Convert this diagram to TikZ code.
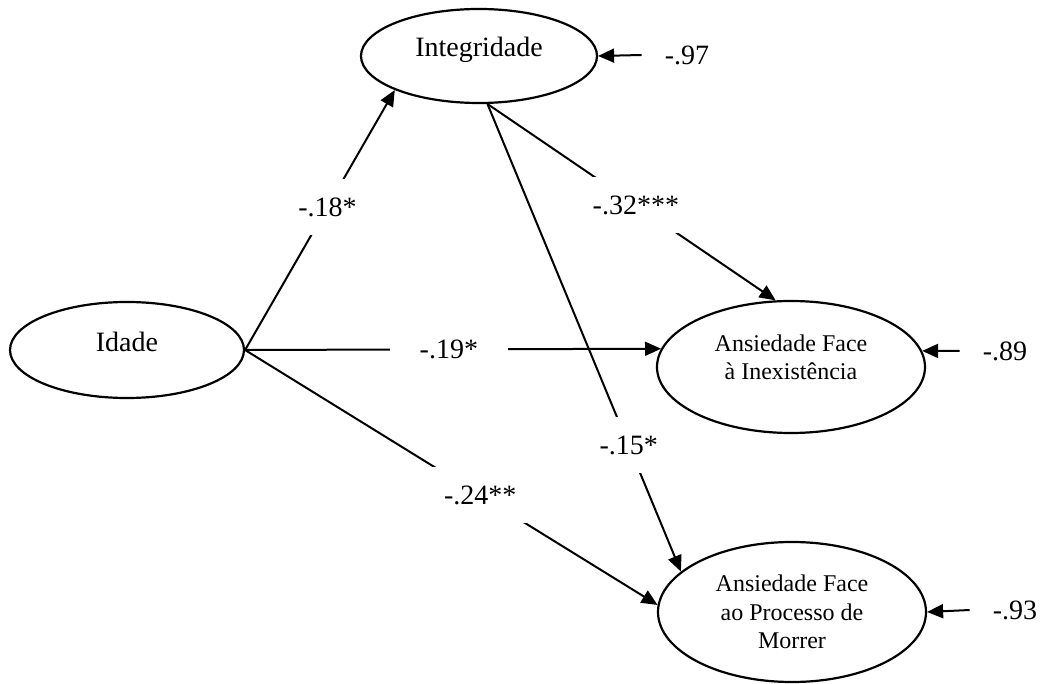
\documentclass[tikz,border=0pt]{standalone}
\usepackage{fontspec}
\setmainfont{Liberation Serif}
\usetikzlibrary{arrows.meta, shapes.geometric}
\begin{document}
\begin{tikzpicture}[x=1pt, y=-1pt, line join=round, >={Triangle[length=16pt, width=14pt]},
	latent/.style={draw, ellipse, line width=2.2pt, inner sep=0pt},
	big/.style={font=\fontsize{28}{32}\selectfont},
	small/.style={font=\fontsize{24}{28.5}\selectfont, align=center},
	coef/.style={big, fill=white, minimum width=118pt, minimum height=56pt, inner sep=0pt},
	resid/.style={big, inner xsep=23pt, inner ysep=0pt},
	link/.style={line width=2pt}]
	\fill[white] (0, 0) rectangle (1042, 684);
	\useasboundingbox (0, 0) rectangle (1042, 684);
	% latent variables
	\node[latent, big, minimum width=236pt, minimum height=94pt, text depth=18pt] (integ) at (479, 56) {Integridade};
	\node[latent, big, minimum width=234pt, minimum height=96pt, text depth=16pt] (idade) at (127, 350) {Idade};
	\node[latent, small, minimum width=268pt, minimum height=132pt, text depth=20pt] (inex) at (791, 367) {Ansiedade Face\\à Inexistência};
	\node[latent, small, minimum width=268pt, minimum height=140pt] (morr) at (792, 612) {Ansiedade Face\\ao Processo de\\Morrer};
	% paths
	\draw[link, ->] (idade.east) -- node[coef, pos=.55] (c18) {-.18*} (integ.202);
	\draw[link, ->] (idade.east) -- node[coef, pos=.49] (c19) {-.19*} (inex.172);
	\draw[link, ->] (idade.east) -- node[coef, pos=.57] (c24) {-.24**} (morr.177);
	\draw[link, ->] (integ.-80) -- node[coef, pos=.515] (c32) {-.32***} (inex.103);
	\draw[link, ->] (integ.-80) -- node[coef, pos=.73] (c15) {-.15*} (morr.160);
	% residuals
	\foreach \r/\val/\x/\y/\tgt in {r97/-.97/687/55/integ.east, r89/-.89/1005/351/inex.7, r93/-.93/1015/610/morr.east} {
		\node[resid] (\r) at (\x, \y) {\val};
		\draw[link, ->] (\r.west) -- (\tgt);
	}
\end{tikzpicture}
\end{document}
